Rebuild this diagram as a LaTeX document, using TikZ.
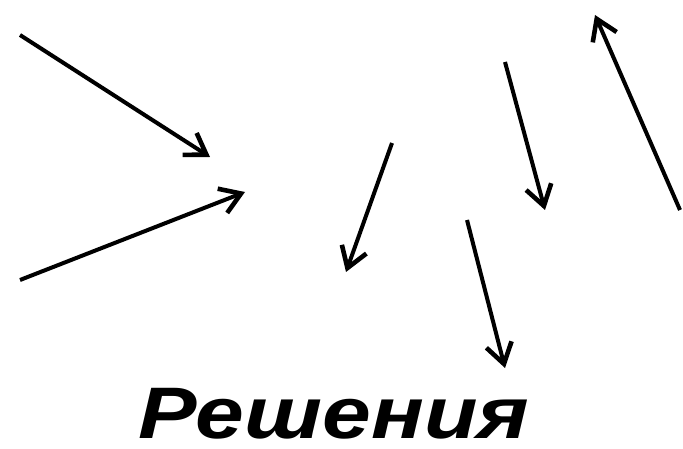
\documentclass[tikz,border=0pt]{standalone}
\usepackage{fontspec}
\setmainfont{Liberation Sans}
\usetikzlibrary{arrows.meta}
\begin{document}
\begin{tikzpicture}[x=1pt,y=-1pt,
  vec/.style={line width=4pt,-{Straight Barb[length=20pt,width=26pt,line width=4.6pt]}},
  lbl/.style={font=\fontsize{73}{80}\selectfont\bfseries\itshape,inner sep=0pt,anchor=base,text depth=0pt,xscale=1.2}]
\useasboundingbox[fill=white] (0,0) rectangle (683,449);
\coordinate (a1) at (20,35);   \coordinate (b1) at (210,157);
\coordinate (a2) at (20,280);  \coordinate (b2) at (245,192);
\coordinate (a3) at (392,143); \coordinate (b3) at (346,272);
\coordinate (a4) at (505,62);  \coordinate (b4) at (545,210);
\coordinate (a5) at (680,210); \coordinate (b5) at (595,15);
\coordinate (a6) at (467,220); \coordinate (b6) at (505,368);
\draw[vec] (a1) -- (b1);
\draw[vec] (a2) -- (b2);
\draw[vec] (a3) -- (b3);
\draw[vec] (a4) -- (b4);
\draw[vec] (a5) -- (b5);
\draw[vec] (a6) -- (b6);
\node[lbl] (t) at (334,438) {Решения};
\end{tikzpicture}
\end{document}
